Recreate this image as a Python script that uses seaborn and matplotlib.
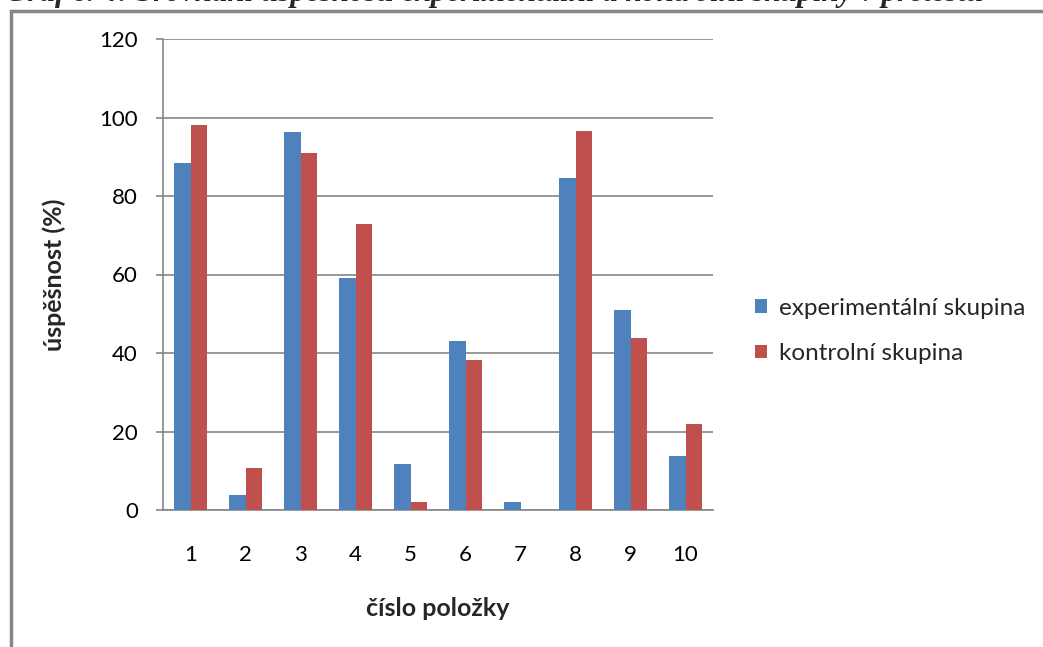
import matplotlib
matplotlib.use("Agg")
import matplotlib.pyplot as plt
from matplotlib.patches import Rectangle, Patch
import seaborn as sns
import pandas as pd

items = ["1", "2", "3", "4", "5", "6", "7", "8", "9", "10"]
experimental = [88.5, 3.8, 96.3, 59.0, 11.7, 43.1, 2.0, 84.6, 51.0, 13.7]
control = [98.1, 10.7, 91.0, 72.9, 2.0, 38.2, 0.0, 96.6, 43.8, 21.9]
groups = ["experimentální skupina", "kontrolní skupina"]
colors = ["#4F81BD", "#C0504D"]
yticks = [0, 20, 40, 60, 80, 100, 120]

df = pd.DataFrame({
    "položka": items * 2,
    "úspěšnost": experimental + control,
    "skupina": [groups[0]] * len(items) + [groups[1]] * len(items),
})

sns.set_theme(style="white")
plt.rcParams["font.family"] = ["Lato", "DejaVu Sans"]

W, H = 1043, 647
fig = plt.figure(figsize=(W / 100, H / 100), dpi=100)
ax = fig.add_axes([163 / W, 1 - 510 / H, (713 - 163) / W, (510 - 39) / H])

sns.barplot(data=df, x="položka", y="úspěšnost", hue="skupina",
            palette=colors, width=0.6, saturation=1, ax=ax,
            linewidth=0, legend=False, zorder=3)

ax.set_ylim(0, 120)
ax.set_yticks(yticks)
ax.set_yticklabels([str(v) for v in yticks], fontsize=16, color="#000000")
ax.set_xlim(-0.5, len(items) - 0.5)
ax.tick_params(axis="x", length=0, pad=25, labelsize=16, colors="#000000")
ax.tick_params(axis="y", length=5, width=1.2, color="#868686", pad=13, direction="out", left=True)
ax.grid(axis="y", color="#868686", linewidth=1.2, zorder=0)
ax.set_axisbelow(True)
for side in ["top", "right"]:
    ax.spines[side].set_visible(False)
for side in ["left", "bottom"]:
    ax.spines[side].set_color("#868686")
    ax.spines[side].set_linewidth(1.2)

ax.set_xlabel("číslo položky", fontsize=18, fontweight="bold", labelpad=23)
ax.set_ylabel("úspěšnost (%)", fontsize=18, fontweight="bold", labelpad=24)

handles = [Patch(facecolor=c, edgecolor="none") for c in colors]
fig.legend(handles, groups, loc="center left", bbox_to_anchor=(733 / W, 1 - 331 / H),
           frameon=False, fontsize=17.5, handlelength=0.5, handleheight=0.5,
           handletextpad=0.5, labelspacing=1.0)

# outer frame of the chart area
fig.patches.append(Rectangle((11 / W, -0.1), 1.2, 1.1 - 11 / H, transform=fig.transFigure,
                             fill=False, edgecolor="#868686", linewidth=2.5))

fig.text(5 / W, 1 - 0.5 / H,
         "Graf č. 4: Srovnání úspěšnosti experimentální a kontrolní skupiny v pretestu",
         family="Liberation Serif", style="italic", fontweight="bold", fontsize=22.3,
         va="baseline", ha="left")

fig.savefig("out.png", dpi=100)
